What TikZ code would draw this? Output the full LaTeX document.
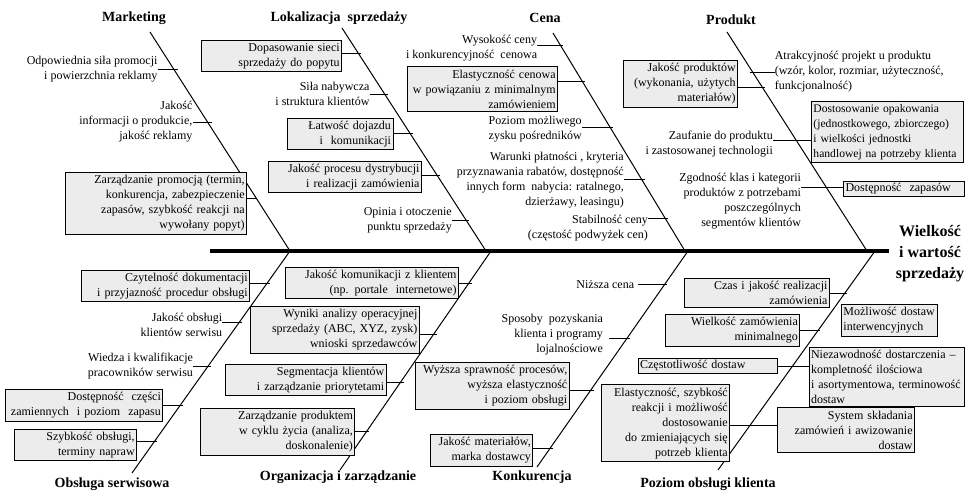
\documentclass[tikz,border=0pt]{standalone}
\usepackage{fontspec}
\setmainfont{Liberation Serif}
\usetikzlibrary{positioning, calc}
\definecolor{boxgray}{RGB}{236, 236, 236}
\tikzset{
  spine/.style={draw=black, line width=3.6pt},
  bone/.style={draw=black, line width=1pt},
  rib/.style={draw=black, line width=0.9pt},
  cause/.style={font=\fontsize{12}{15}\selectfont, inner sep=0pt, align=right},
  causeL/.style={cause, align=left},
  causebox/.style={cause, draw=black, line width=0.9pt, fill=boxgray,
    inner xsep=2pt, inner ysep=3pt, text width=#1},
  causebox/.default=100pt,
  causeboxL/.style={causebox=#1, align=left},
  causeboxL/.default=100pt,
  cat/.style={font=\fontsize{14}{16}\selectfont\bfseries, inner sep=0pt},
  effect/.style={font=\fontsize{16}{21}\selectfont\bfseries, align=center,
    inner xsep=7pt, inner ysep=0pt},
}

\begin{document}
\begin{tikzpicture}[x=1pt, y=-1pt, node distance=16pt]
\useasboundingbox (0,0) rectangle (965,491);

% spine and bones
\coordinate (spL) at (210,251);
\coordinate (mkT) at (150,32);  \coordinate (mkB) at (290,251);
\coordinate (lkT) at (342,28);  \coordinate (lkB) at (486,251);
\coordinate (cnT) at (553,33);  \coordinate (cnB) at (685,251);
\coordinate (prT) at (727,32);  \coordinate (prB) at (867,251);
\coordinate (obT) at (290,251); \coordinate (obB) at (132,473);
\coordinate (orT) at (491,251); \coordinate (orB) at (340,470);
\coordinate (koT) at (688,251); \coordinate (koB) at (537,467);
\coordinate (poT) at (875,251); \coordinate (poB) at (718,470);

\node[effect] (eff) at (930,254) {Wielkość\\i wartość\\sprzedaży};
\draw[spine] (spL) -- (spL -| eff.west);

\foreach \b in {mk, lk, cn, pr, ob, or, ko, po}
  \draw[bone] (\b T) -- (\b B);

\node[cat] (mk) at (134,18) {Marketing};
\node[cat] (lk) at (339,18) {Lokalizacja~ sprzedaży};
\node[cat] (cn) at (545,18) {Cena};
\node[cat] (pr) at (731,20) {Produkt};
\node[cat] (ob) at (112,484) {Obsługa serwisowa};
\node[cat] (or) at (338,477) {Organizacja i zarządzanie};
\node[cat] (ko) at (532,477) {Konkurencja};
\node[cat] (po) at (708,484) {Poziom obsługi klienta};

% points on the bones
\path (mkT) -- (mkB) coordinate[pos=.169] (mk1) coordinate[pos=.411] (mk2)
  coordinate[pos=.758] (mk3);
\path (lkT) -- (lkB) coordinate[pos=.112] (lk1) coordinate[pos=.296] (lk2)
  coordinate[pos=.475] (lk3) coordinate[pos=.659] (lk4) coordinate[pos=.861] (lk5);
\path (cnT) -- (cnB) coordinate[pos=.055] (cn1) coordinate[pos=.220] (cn2)
  coordinate[pos=.431] (cn3) coordinate[pos=.674] (cn4) coordinate[pos=.849] (cn5);
\path (prT) -- (prB) coordinate[pos=.183] (pr1) coordinate[pos=.251] (pr2)
  coordinate[pos=.493] (pr3) coordinate[pos=.708] (pr4);
\path (obT) -- (obB) coordinate[pos=.144] (ob1) coordinate[pos=.320] (ob2)
  coordinate[pos=.518] (ob3) coordinate[pos=.694] (ob4) coordinate[pos=.860] (ob5);
\path (orT) -- (orB) coordinate[pos=.146] (or1) coordinate[pos=.379] (or2)
  coordinate[pos=.598] (or3) coordinate[pos=.826] (or4);
\path (koT) -- (koB) coordinate[pos=.157] (ko1) coordinate[pos=.403] (ko2)
  coordinate[pos=.644] (ko3) coordinate[pos=.912] (ko4);
\path (poT) -- (poB) coordinate[pos=.192] (po1) coordinate[pos=.242] (po2)
  coordinate[pos=.361] (po3) coordinate[pos=.525] (po4) coordinate[pos=.795] (po5);

% Marketing
\node[cause, left=16pt of mk1] (mk1t) {Odpowiednia siła promocji\\i powierzchnia reklamy};
\node[cause, left=15pt of mk2] (mk2t) {Jakość\\informacji o produkcie,\\jakość reklamy};
\node[causebox=177pt, left=9pt of mk3, yshift=-5pt] (mk3t) {Zarządzanie promocją (termin,\\konkurencja, zabezpieczenie\\zapasów, szybkość reakcji na\\wywołany popyt)};
\draw[rib] (mk1 -| mk1t.east) -- ([xshift=4pt]mk1);
\draw[rib] (mk2 -| mk2t.east) -- ([xshift=4pt]mk2);
\draw[rib] (mk3 -| mk3t.east) -- ([xshift=1pt]mk3);

% Lokalizacja sprzedazy
\node[causebox=136pt, left=16pt of lk1, yshift=-3pt] (lk1t) {Dopasowanie sieci\\sprzedaży do popytu};
\node[cause, left=15pt of lk2] (lk2t) {Siła nabywcza\\i struktura klientów};
\node[causebox=102pt, left=17pt of lk3] (lk3t) {Łatwość dojazdu\\i~ komunikacji};
\node[causebox=149pt, left=15pt of lk4, yshift=-2pt] (lk4t) {Jakość procesu dystrybucji\\i realizacji zamówienia};
\node[cause, left=14pt of lk5] (lk5t) {Opinia i otoczenie\\punktu sprzedaży};
\foreach \i in {1,...,5}
  \draw[rib] (lk\i -| lk\i t.east) -- ([xshift=3pt]lk\i);

% Cena
\node[cause, left=23pt of cn1, yshift=-3pt] (cn1t) {Wysokość ceny\\i konkurencyjność~ cenowa};
\node[causebox=146pt, left=24pt of cn2, yshift=-8pt] (cn2t) {Elastyczność cenowa\\w powiązaniu z minimalnym\\zamówieniem};
\node[cause, left=28pt of cn3, yshift=-2pt] (cn3t) {Poziom możliwego\\zysku pośredników};
\node[cause, left=18pt of cn4] (cn4t) {Warunki płatności , kryteria\\przyznawania rabatów, dostępność\\innych form~ nabycia: ratalnego,\\dzierżawy, leasingu)};
\node[cause, left=17pt of cn5, yshift=-10pt] (cn5t) {Stabilność ceny\\(częstość podwyżek cen)};
\foreach \i in {1,...,5}
  \draw[rib] (cn\i -| cn\i t.east) -- ([xshift=3pt]cn\i);

% Produkt
\node[causeL, right=22pt of pr1] (pr1t) {Atrakcyjność projekt u produktu\\(wzór, kolor, rozmiar, użyteczność,\\funkcjonalność)};
\node[causebox=110pt, left=24pt of pr2, yshift=3pt] (pr2t) {Jakość produktów\\(wykonania, użytych\\materiałów)};
\node[cause, left=23pt of pr3, yshift=-4pt] (pr3t) {Zaufanie do produktu\\i zastosowanej technologii};
\node[causeboxL=148pt, right=15pt of pr3, yshift=8pt, font=\fontsize{11.6}{15}\selectfont] (pr3b) {Dostosowanie opakowania\\(jednostkowego, zbiorczego)\\i wielkości jednostki\\handlowej na potrzeby klienta};
\node[cause, left=25pt of pr4, yshift=-14pt] (pr4t) {Zgodność klas i kategorii\\produktów z potrzebami\\poszczególnych\\segmentów klientów};
\node[causeboxL=117pt, right=17pt of pr4, yshift=-2pt, inner ysep=2pt] (pr4b) {Dostępność~ zapasów};
\draw[rib] ([xshift=-3pt]pr1) -- (pr1 -| pr1t.west);
\draw[rib] (pr2 -| pr2t.east) -- ([xshift=3pt]pr2);
\draw[rib] (pr3 -| pr3t.east) -- (pr3 -| pr3b.west);
\draw[rib] (pr4 -| pr4t.east) -- (pr4 -| pr4b.west);

% Obsluga serwisowa
\node[causebox=164pt, left=17pt of ob1, yshift=-3pt] (ob1t) {Czytelność dokumentacji\\i przyjazność procedur obsługi};
\node[cause, left=17pt of ob2, yshift=-3pt] (ob2t) {Jakość obsługi\\klientów serwisu};
\node[cause, left=15pt of ob3] (ob3t) {Wiedza i kwalifikacje\\pracowników serwisu};
\node[causebox=153pt, left=17pt of ob4] (ob4t) {Dostępność~ części\\zamiennych~ i poziom~ zapasu};
\node[causebox=118pt, left=17pt of ob5, yshift=-3pt] (ob5t) {Szybkość obsługi,\\terminy napraw};
\foreach \i in {1,...,5}
  \draw[rib] (ob\i -| ob\i t.east) -- ([xshift=3pt]ob\i);

% Organizacja i zarzadzanie
\node[causebox=169pt, left=10pt of or1] (or1t) {Jakość komunikacji z klientem\\(np. portale~ internetowe)};
\node[causebox=165pt, left=14pt of or2, yshift=4pt] (or2t) {Wyniki analizy operacyjnej\\sprzedaży (ABC, XYZ, zysk)\\wnioski sprzedawców};
\node[causebox=157pt, left=14pt of or3, yshift=2pt] (or3t) {Segmentacja klientów\\i zarządzanie priorytetami};
\node[causebox=150pt, left=11pt of or4] (or4t) {Zarządzanie produktem\\w cyklu życia (analiza,\\doskonalenie)};
\foreach \i in {1,...,4}
  \draw[rib] (or\i -| or\i t.east) -- ([xshift=3pt]or\i);

% Konkurencja
\node[cause, left=30pt of ko1] (ko1t) {Niższa cena};
\node[cause, left=24pt of ko2, yshift=3pt] (ko2t) {Sposoby~ pozyskania\\klienta i programy\\lojalnościowe};
\node[causebox=150pt, left=21pt of ko3, yshift=4pt] (ko3t) {Wyższa sprawność procesów,\\wyższa elastyczność\\i poziom obsługi};
\node[causebox=98pt, left=17pt of ko4, yshift=-2pt] (ko4t) {Jakość materiałów,\\marka dostawcy};
\draw[rib] ([xshift=4pt]ko1t.east) -- ([xshift=3pt]ko1);
\draw[rib] ([xshift=6pt]ko2 -| ko2t.east) -- ([xshift=3pt]ko2);
\foreach \i in {3,4}
  \draw[rib] (ko\i -| ko\i t.east) -- ([xshift=3pt]ko\i);

% Poziom obslugi klienta
\node[causebox=141pt, left=15pt of po1] (po1t) {Czas i jakość realizacji\\zamówienia};
\node[causeboxL=92pt, below right=0pt and 4pt of po2] (po2t) {Możliwość dostaw\\interwencyjnych};
\node[causebox=130pt, left=18pt of po3] (po3t) {Wielkość zamówienia\\minimalnego};
\node[causeboxL=135pt, left=15pt of po4, inner ysep=2pt] (po4t) {Częstotliwość dostaw};
\node[causeboxL=151pt, right=16pt of po4, yshift=-11pt] (po4b) {Niezawodność dostarczenia –\\kompletność ilościowa\\i asortymentowa, terminowość\\dostaw};
\node[causebox=124pt, left=20pt of po5, yshift=2pt] (po5t) {Elastyczność, szybkość\\reakcji i możliwość\\dostosowanie\\do zmieniających się\\potrzeb klienta};
\node[causebox=133pt, right=27pt of po5, yshift=-5pt] (po5b) {System składania\\zamówień i awizowanie\\dostaw};
\draw[rib] (po1 -| po1t.east) -- ([xshift=2pt]po1);
\draw[rib] (po3 -| po3t.east) -- ([xshift=2pt]po3);
\draw[rib] (po4 -| po4t.east) -- (po4 -| po4b.west);
\draw[rib] (po5 -| po5t.east) -- (po5 -| po5b.west);

\end{tikzpicture}
\end{document}
